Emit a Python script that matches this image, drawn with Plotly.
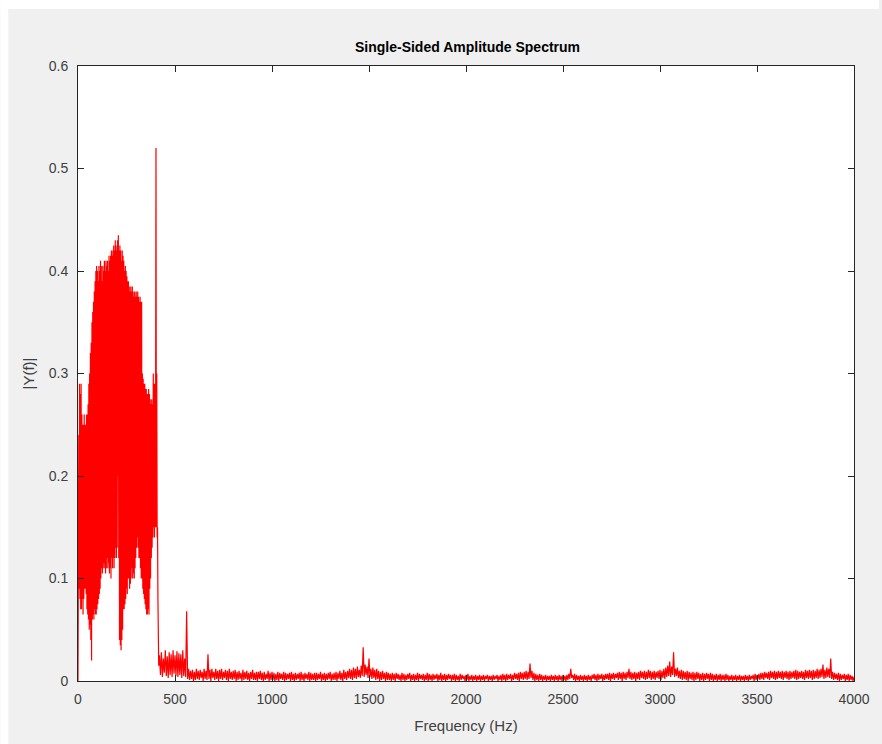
import numpy as np
import plotly.graph_objects as go

# Low band: 0..420 Hz, 2 Hz spacing (hand-read amplitudes, alternating peaks/troughs)
freq_low = np.arange(0, 421, 2)
amp_low = [
    0.0, 0.08, 0.24, 0.09, 0.29, 0.08, 0.28, 0.07, 0.29, 0.07,
    0.26, 0.08, 0.25, 0.065, 0.25, 0.08, 0.26, 0.09, 0.25, 0.09,
    0.25, 0.085, 0.26, 0.07, 0.26, 0.065, 0.27, 0.06, 0.29, 0.05,
    0.30, 0.055, 0.32, 0.04, 0.33, 0.02, 0.35, 0.06, 0.36, 0.065,
    0.37, 0.06, 0.38, 0.07, 0.39, 0.065, 0.40, 0.065, 0.405, 0.07,
    0.40, 0.075, 0.39, 0.08, 0.405, 0.085, 0.40, 0.09, 0.41, 0.10,
    0.405, 0.11, 0.39, 0.105, 0.405, 0.11, 0.40, 0.115, 0.41, 0.11,
    0.40, 0.105, 0.41, 0.11, 0.405, 0.12, 0.41, 0.11, 0.40, 0.115,
    0.415, 0.105, 0.41, 0.11, 0.415, 0.10, 0.42, 0.12, 0.415, 0.11,
    0.42, 0.12, 0.425, 0.11, 0.42, 0.12, 0.43, 0.13, 0.425, 0.12,
    0.42, 0.13, 0.43, 0.20, 0.435, 0.12, 0.42, 0.04, 0.425, 0.035,
    0.42, 0.03, 0.41, 0.04, 0.42, 0.05, 0.415, 0.07, 0.41, 0.07,
    0.40, 0.075, 0.405, 0.08, 0.40, 0.09, 0.395, 0.085, 0.39, 0.10,
    0.39, 0.10, 0.385, 0.09, 0.38, 0.095, 0.385, 0.10, 0.38, 0.11,
    0.385, 0.10, 0.38, 0.105, 0.375, 0.10, 0.38, 0.11, 0.375, 0.12,
    0.38, 0.13, 0.375, 0.14, 0.38, 0.13, 0.375, 0.12, 0.37, 0.12,
    0.375, 0.11, 0.37, 0.10, 0.37, 0.10, 0.30, 0.09, 0.295, 0.085,
    0.29, 0.08, 0.29, 0.075, 0.285, 0.07, 0.285, 0.065, 0.28, 0.065,
    0.28, 0.07, 0.285, 0.065, 0.28, 0.09, 0.275, 0.10, 0.27, 0.12,
    0.275, 0.13, 0.27, 0.14, 0.30, 0.15, 0.29, 0.14, 0.29, 0.15,
    0.26, 0.52, 0.15, 0.30, 0.14, 0.15, 0.08, 0.03, 0.015, 0.02,
    0.025,
]

# High band peaks: 430..4000 Hz, 10 Hz spacing (hand-read top of noise band)
freq_high_peaks = np.arange(430, 4001, 10)
amp_high_peaks = [
    0.028, 0.022, 0.030, 0.024, 0.028, 0.026, 0.030, 0.025, 0.029, 0.027,   # 430-520
    0.026, 0.030, 0.022, 0.068, 0.012, 0.010, 0.011, 0.009, 0.012, 0.010,   # 530-620
    0.011, 0.009, 0.012, 0.010, 0.026, 0.011, 0.012, 0.009, 0.012, 0.010,   # 630-720
    0.011, 0.012, 0.009, 0.011, 0.010, 0.012, 0.009, 0.010, 0.011, 0.009,   # 730-820
    0.010, 0.008, 0.011, 0.009, 0.010, 0.008, 0.009, 0.011, 0.008, 0.009,   # 830-920
    0.009, 0.010, 0.008, 0.009, 0.007, 0.010, 0.008, 0.009, 0.008, 0.007,   # 930-1020
    0.009, 0.008, 0.007, 0.009, 0.008, 0.007, 0.008, 0.009, 0.007, 0.008,   # 1030-1120
    0.007, 0.008, 0.009, 0.007, 0.008, 0.007, 0.009, 0.008, 0.007, 0.008,   # 1130-1220
    0.008, 0.007, 0.009, 0.007, 0.008, 0.007, 0.008, 0.009, 0.007, 0.008,   # 1230-1320
    0.009, 0.008, 0.010, 0.008, 0.011, 0.009, 0.010, 0.012, 0.011, 0.013,   # 1330-1420
    0.012, 0.014, 0.011, 0.015, 0.033, 0.016, 0.014, 0.022, 0.012, 0.013,   # 1430-1520
    0.011, 0.012, 0.010, 0.009, 0.010, 0.008, 0.009, 0.008, 0.007, 0.008,   # 1530-1620
    0.007, 0.008, 0.007, 0.006, 0.008, 0.007, 0.006, 0.007, 0.008, 0.006,   # 1630-1720
    0.007, 0.006, 0.008, 0.007, 0.006, 0.007, 0.006, 0.008, 0.007, 0.006,   # 1730-1820
    0.007, 0.006, 0.007, 0.006, 0.008, 0.006, 0.007, 0.006, 0.007, 0.006,   # 1830-1920
    0.006, 0.007, 0.006, 0.005, 0.007, 0.006, 0.005, 0.006, 0.007, 0.005,   # 1930-2020
    0.006, 0.005, 0.006, 0.005, 0.006, 0.005, 0.006, 0.005, 0.006, 0.005,   # 2030-2120
    0.005, 0.006, 0.005, 0.006, 0.005, 0.006, 0.007, 0.006, 0.007, 0.006,   # 2130-2220
    0.007, 0.006, 0.008, 0.007, 0.008, 0.009, 0.008, 0.009, 0.010, 0.009,   # 2230-2320
    0.017, 0.010, 0.008, 0.007, 0.006, 0.007, 0.006, 0.005, 0.006, 0.005,   # 2330-2420
    0.005, 0.006, 0.005, 0.006, 0.005, 0.006, 0.005, 0.006, 0.005, 0.006,   # 2430-2520
    0.007, 0.012, 0.006, 0.007, 0.006, 0.005, 0.006, 0.005, 0.006, 0.005,   # 2530-2620
    0.006, 0.005, 0.006, 0.007, 0.006, 0.007, 0.006, 0.007, 0.006, 0.007,   # 2630-2720
    0.007, 0.008, 0.007, 0.008, 0.007, 0.008, 0.009, 0.008, 0.009, 0.008,   # 2730-2820
    0.009, 0.012, 0.009, 0.008, 0.009, 0.008, 0.009, 0.010, 0.009, 0.010,   # 2830-2920
    0.009, 0.011, 0.010, 0.009, 0.010, 0.009, 0.010, 0.011, 0.010, 0.012,   # 2930-3020
    0.013, 0.015, 0.019, 0.014, 0.028, 0.012, 0.013, 0.010, 0.011, 0.010,   # 3030-3120
    0.009, 0.010, 0.009, 0.008, 0.009, 0.008, 0.009, 0.008, 0.007, 0.008,   # 3130-3220
    0.007, 0.008, 0.007, 0.008, 0.007, 0.006, 0.007, 0.006, 0.007, 0.006,   # 3230-3320
    0.006, 0.007, 0.006, 0.005, 0.006, 0.005, 0.006, 0.005, 0.006, 0.005,   # 3330-3420
    0.005, 0.006, 0.005, 0.006, 0.005, 0.006, 0.007, 0.006, 0.007, 0.008,   # 3430-3520
    0.008, 0.009, 0.008, 0.009, 0.010, 0.009, 0.010, 0.009, 0.010, 0.009,   # 3530-3620
    0.010, 0.009, 0.010, 0.009, 0.010, 0.009, 0.010, 0.011, 0.010, 0.009,   # 3630-3720
    0.010, 0.009, 0.011, 0.010, 0.011, 0.010, 0.011, 0.010, 0.012, 0.011,   # 3730-3820
    0.012, 0.016, 0.011, 0.013, 0.012, 0.022, 0.009, 0.008, 0.007, 0.008,   # 3830-3920
    0.007, 0.006, 0.007, 0.006, 0.007, 0.006, 0.005, 0.004,                 # 3930-4000
]

# High band troughs: 425..3995 Hz, 10 Hz spacing (hand-read bottom of noise band)
freq_high_troughs = np.arange(425, 3996, 10)
amp_high_troughs = [
    0.006, 0.004, 0.008, 0.005, 0.003, 0.006, 0.004, 0.007, 0.005, 0.004,   # 425-515
    0.006, 0.003, 0.005, 0.004, 0.002, 0.001, 0.002, 0.000, 0.001, 0.002,   # 525-615
    0.001, 0.003, 0.000, 0.002, 0.001, 0.002, 0.000, 0.003, 0.001, 0.002,   # 625-715
    0.000, 0.002, 0.001, 0.003, 0.001, 0.000, 0.002, 0.001, 0.002, 0.000,   # 725-815
    0.001, 0.002, 0.000, 0.001, 0.002, 0.001, 0.000, 0.002, 0.001, 0.001,   # 825-915
    0.000, 0.002, 0.001, 0.000, 0.001, 0.002, 0.000, 0.001, 0.001, 0.000,   # 925-1015
    0.001, 0.000, 0.002, 0.001, 0.000, 0.001, 0.002, 0.000, 0.001, 0.000,   # 1025-1115
    0.001, 0.002, 0.000, 0.001, 0.000, 0.002, 0.001, 0.000, 0.001, 0.001,   # 1125-1215
    0.000, 0.001, 0.002, 0.000, 0.001, 0.000, 0.001, 0.002, 0.000, 0.001,   # 1225-1315
    0.001, 0.000, 0.002, 0.001, 0.000, 0.002, 0.001, 0.003, 0.002, 0.001,   # 1325-1415
    0.003, 0.002, 0.004, 0.003, 0.005, 0.004, 0.006, 0.003, 0.004, 0.002,   # 1425-1515
    0.003, 0.001, 0.002, 0.000, 0.001, 0.002, 0.000, 0.001, 0.001, 0.000,   # 1525-1615
    0.001, 0.000, 0.002, 0.001, 0.000, 0.001, 0.000, 0.001, 0.002, 0.000,   # 1625-1715
    0.001, 0.000, 0.001, 0.000, 0.002, 0.001, 0.000, 0.001, 0.000, 0.001,   # 1725-1815
    0.000, 0.001, 0.002, 0.000, 0.001, 0.000, 0.001, 0.000, 0.001, 0.002,   # 1825-1915
    0.000, 0.001, 0.000, 0.001, 0.000, 0.001, 0.002, 0.000, 0.001, 0.000,   # 1925-2015
    0.001, 0.000, 0.001, 0.000, 0.001, 0.000, 0.001, 0.000, 0.002, 0.000,   # 2025-2115
    0.001, 0.000, 0.001, 0.002, 0.000, 0.001, 0.000, 0.001, 0.000, 0.001,   # 2125-2215
    0.002, 0.000, 0.001, 0.002, 0.001, 0.000, 0.002, 0.001, 0.002, 0.001,   # 2225-2315
    0.002, 0.003, 0.001, 0.000, 0.001, 0.000, 0.001, 0.000, 0.001, 0.000,   # 2325-2415
    0.001, 0.000, 0.001, 0.000, 0.001, 0.000, 0.001, 0.000, 0.001, 0.000,   # 2425-2515
    0.001, 0.002, 0.003, 0.001, 0.000, 0.001, 0.000, 0.001, 0.000, 0.001,   # 2525-2615
    0.000, 0.001, 0.000, 0.002, 0.001, 0.000, 0.001, 0.002, 0.000, 0.001,   # 2625-2715
    0.002, 0.001, 0.000, 0.002, 0.001, 0.003, 0.001, 0.002, 0.000, 0.002,   # 2725-2815
    0.001, 0.003, 0.002, 0.001, 0.002, 0.000, 0.002, 0.001, 0.003, 0.002,   # 2825-2915
    0.001, 0.002, 0.003, 0.001, 0.002, 0.001, 0.003, 0.002, 0.001, 0.003,   # 2925-3015
    0.002, 0.004, 0.005, 0.004, 0.006, 0.004, 0.005, 0.003, 0.002, 0.001,   # 3025-3115
    0.002, 0.001, 0.000, 0.002, 0.001, 0.000, 0.001, 0.002, 0.000, 0.001,   # 3125-3215
    0.000, 0.001, 0.002, 0.000, 0.001, 0.000, 0.001, 0.000, 0.001, 0.000,   # 3225-3315
    0.001, 0.000, 0.001, 0.000, 0.001, 0.000, 0.001, 0.000, 0.001, 0.000,   # 3325-3415
    0.001, 0.000, 0.001, 0.000, 0.001, 0.002, 0.000, 0.001, 0.002, 0.001,   # 3425-3515
    0.002, 0.001, 0.003, 0.002, 0.001, 0.003, 0.002, 0.001, 0.002, 0.003,   # 3525-3615
    0.002, 0.001, 0.003, 0.002, 0.001, 0.002, 0.003, 0.002, 0.001, 0.002,   # 3625-3715
    0.003, 0.002, 0.001, 0.003, 0.002, 0.003, 0.001, 0.002, 0.003, 0.002,   # 3725-3815
    0.003, 0.004, 0.002, 0.003, 0.004, 0.003, 0.002, 0.001, 0.002, 0.001,   # 3825-3915
    0.000, 0.001, 0.002, 0.000, 0.001, 0.000, 0.001, 0.000,                 # 3925-3995
]

# merge the hand-read series in frequency order
pairs = sorted(
    list(zip(freq_low, amp_low))
    + list(zip(freq_high_troughs, amp_high_troughs))
    + list(zip(freq_high_peaks, amp_high_peaks))
)
freq = [float(p[0]) for p in pairs]
amp = [p[1] for p in pairs]

x_ticks = [0, 500, 1000, 1500, 2000, 2500, 3000, 3500, 4000]
y_ticks = [0, 0.1, 0.2, 0.3, 0.4, 0.5, 0.6]
y_tick_text = ["0", "0.1", "0.2", "0.3", "0.4", "0.5", "0.6"]

AX = "#262626"
LBL = "#404040"
FONT = "Liberation Sans, Arial, Helvetica, sans-serif"

fig = go.Figure()
fig.add_trace(go.Scatter(
    x=freq, y=amp, mode="lines",
    line=dict(color="#ff0000", width=1.2),
    showlegend=False, hoverinfo="x+y",
))

L, R, T, B = 78, 857, 66, 681
W, H = 882, 744
pw, ph = R - L, B - T

def px_x(px):
    return (px - L) / pw

def px_y(py):
    return (B - py) / ph

# white strips at top/left edge of the window (outside the grey figure)
fig.add_shape(type="rect", xref="paper", yref="paper", layer="below",
              x0=px_x(0), x1=px_x(8), y0=px_y(H), y1=px_y(0),
              fillcolor="white", line=dict(width=0))
fig.add_shape(type="rect", xref="paper", yref="paper", layer="below",
              x0=px_x(0), x1=px_x(W), y0=px_y(9), y1=px_y(0),
              fillcolor="white", line=dict(width=0))

fig.update_layout(
    width=W, height=H,
    margin=dict(l=L, r=W - R, t=T, b=H - B),
    paper_bgcolor="#f0f0f0",
    plot_bgcolor="white",
    font=dict(family=FONT, size=13, color=AX),
    title=dict(text="<b>Single-Sided Amplitude Spectrum</b>",
               x=(L + R) / 2 / W, xanchor="center",
               y=1 - 47 / H, yanchor="middle",
               font=dict(size=14, color="#000000")),
    xaxis=dict(
        range=[0, 4000], tickvals=x_ticks,
        ticktext=[str(v) for v in x_ticks],
        showgrid=False, zeroline=False,
        showline=True, linecolor=AX, linewidth=1, mirror="ticks",
        ticks="inside", ticklen=6, tickcolor=AX, tickwidth=1,
        tickfont=dict(size=14, color=LBL),
        ticklabelstandoff=5,
        title=dict(text="Frequency (Hz)", standoff=14,
                   font=dict(size=15, color=LBL)),
    ),
    yaxis=dict(
        range=[0, 0.6], tickvals=y_ticks, ticktext=y_tick_text,
        showgrid=False, zeroline=False,
        showline=True, linecolor=AX, linewidth=1, mirror="ticks",
        ticks="inside", ticklen=6, tickcolor=AX, tickwidth=1,
        tickfont=dict(size=14, color=LBL),
        ticklabelstandoff=6,
        title=dict(text="|Y(f)|", standoff=10,
                   font=dict(size=15, color=LBL)),
    ),
)

fig.write_html(
    "out.html",
    post_script=(
        "document.documentElement.style.background='#f0f0f0';"
        "document.body.style.margin='0';"
        "document.body.style.overflow='hidden';"
        "document.body.style.background='#f0f0f0';"
    ),
)
